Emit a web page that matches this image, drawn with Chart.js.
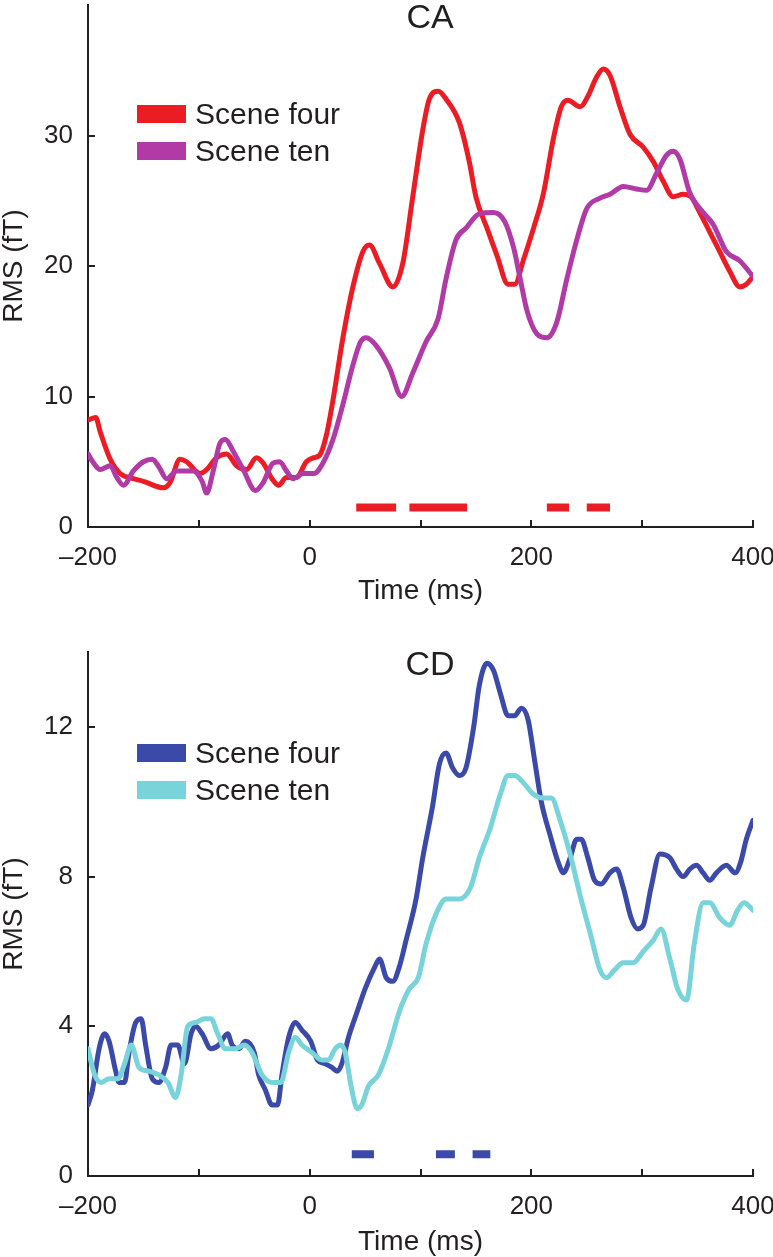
<!DOCTYPE html>
<html>
<head>
<meta charset="utf-8">
<script src="https://cdn.jsdelivr.net/npm/chart.js@4.4.0/dist/chart.umd.min.js"></script>
<style>
  html, body { margin: 0; padding: 0; background: #fff; }
  canvas { display: block; }
</style>
</head>
<body>
<canvas id="chartCA" width="773" height="606"></canvas>
<canvas id="chartCD" width="773" height="651"></canvas>
<script>
// ---- CA panel data ----
const caFourT = [-200,-193,-189,-180,-171,-159,-150,-132,-126,-117,-111,-99,-93,-84,-75,-66,-57,-48,-42,-34,-28,-21,-12,-3,3,9,15,21,30,39,48,54,63,75,84,93,102,108,116,123,135,144,150,160,169,179,185,193,202,211,220,227,233,244,251,259,265,271,280,289,301,310,319,328,337,344,352,361,370,379,388,394,400];
const caFourV = [8.2,8.4,7.3,5.2,4.1,3.7,3.5,3.0,3.4,5.2,5.0,4.1,4.4,5.3,5.6,4.7,4.4,5.3,4.9,3.7,3.2,3.8,3.8,5.0,5.3,5.5,7.0,9.7,14.5,18.4,21.1,21.6,20.2,18.4,20.2,25.3,30.4,32.8,33.4,32.8,31.0,28.0,25.3,22.9,20.8,18.6,18.6,20.5,22.9,25.6,29.8,32.2,32.7,32.2,33.0,34.5,35.1,34.6,32.2,30.1,29.1,28.0,26.5,25.3,25.5,25.3,24.1,22.6,21.1,19.6,18.4,18.6,19.2];
const caTenT = [-200,-195,-189,-180,-174,-168,-159,-150,-142,-136,-129,-120,-105,-97,-93,-87,-81,-76,-69,-60,-49,-42,-33,-27,-21,-15,-6,4,12,21,30,39,46,51,60,72,83,93,105,116,123,132,141,153,166,176,184,190,196,205,214,223,232,241,250,262,271,283,295,304,313,322,328,334,343,352,364,376,388,400];
const caTenV = [5.6,4.9,4.4,4.7,3.8,3.2,4.3,5.0,5.2,4.6,3.7,4.3,4.3,3.5,2.6,4.3,6.4,6.7,5.8,4.4,2.8,3.4,4.9,5.0,4.3,3.7,4.1,4.1,4.9,6.7,9.4,12.4,14.2,14.5,13.9,12.2,10.0,11.8,14.2,16.0,19.0,22.0,22.9,24.0,24.1,23.4,21.4,19.0,16.6,14.8,14.5,15.7,19.0,22.0,24.4,25.2,25.5,26.1,25.9,25.8,27.1,28.5,28.8,28.2,25.6,24.4,23.2,21.1,20.4,19.2];
const caSigStart = [42, 90, 214, 250];
const caSigEnd = [78, 142, 234, 271];
const caSigLevel = 1.5;
const caYTicks = [0, 10, 20, 30];

// ---- CD panel data ----
const cdFourT = [-200,-196,-190,-185,-181,-175,-172,-167,-163,-157,-152,-148,-142,-136,-130,-125,-119,-113,-107,-103,-97,-89,-82,-74,-70,-64,-58,-50,-46,-40,-34,-29,-25,-19,-13,-7,1,7,14,20,25,29,35,43,50,59,63,69,75,81,87,96,102,111,117,123,129,135,141,148,153,160,166,172,179,185,191,197,203,209,217,224,229,235,241,245,251,257,263,271,277,283,290,296,301,308,316,325,331,337,343,349,355,361,367,376,384,389,394,400];
const cdFourV = [1.9,2.3,3.4,3.8,3.6,2.8,2.5,2.5,3.3,4.1,4.2,3.5,2.6,2.5,2.9,3.5,3.5,3.0,3.8,4.0,3.8,3.4,3.5,3.8,3.5,3.4,3.6,3.3,2.7,2.3,1.9,1.9,2.7,3.7,4.1,3.9,3.6,3.1,3.0,2.9,2.8,3.0,3.7,4.4,5.0,5.6,5.8,5.3,5.2,5.6,6.3,7.4,8.5,9.9,11.0,11.3,10.9,10.7,10.9,12.0,13.1,13.7,13.5,12.9,12.3,12.3,12.5,12.2,11.1,10.0,9.1,8.4,8.1,8.5,9.0,9.0,8.5,7.9,7.8,8.1,8.2,7.7,6.9,6.6,6.7,7.7,8.6,8.5,8.2,8.0,8.2,8.3,8.1,7.9,8.1,8.3,8.1,8.4,9.0,9.5];
const cdTenT = [-200,-194,-188,-181,-173,-167,-161,-154,-145,-136,-128,-121,-116,-110,-103,-95,-89,-83,-76,-67,-59,-52,-43,-34,-26,-19,-13,-7,2,11,17,23,28,32,38,43,47,53,62,71,81,90,98,105,114,123,135,145,153,163,172,179,185,193,202,211,218,226,235,244,253,262,268,275,283,292,301,310,317,325,332,340,347,355,361,370,379,386,392,400];
const cdTenV = [3.4,2.7,2.5,2.6,2.6,3.0,3.5,2.9,2.8,2.7,2.5,2.1,2.7,4.0,4.1,4.2,4.2,3.8,3.4,3.4,3.5,3.3,2.7,2.5,2.5,3.3,3.7,3.5,3.3,3.1,3.1,3.4,3.5,3.3,2.3,1.8,1.9,2.4,2.7,3.4,4.4,5.0,5.3,6.2,7.0,7.4,7.4,7.7,8.5,9.3,10.2,10.7,10.7,10.5,10.2,10.1,10.1,9.5,8.6,7.5,6.5,5.5,5.3,5.5,5.7,5.7,6.0,6.3,6.6,5.8,5.0,4.7,6.2,7.3,7.3,6.9,6.7,7.1,7.3,7.1];
const cdSigStart = [38, 114, 147];
const cdSigEnd = [58, 131, 163];
const cdSigLevel = 0.58;
const cdYTicks = [0, 4, 8, 12];

const xTickMarks = [-200, -100, 0, 100, 200, 300, 400];
const seriesLabels = ['Scene four', 'Scene ten'];

const ink = '#231f20';
const fontFamily = "'Liberation Sans', Arial, Helvetica, sans-serif";
Chart.defaults.font.family = fontFamily;
Chart.defaults.color = ink;

function series(times, values) {
    return times.map((t, i) => ({ x: t, y: values[i] }));
}

// significance bars: one dataset, gaps between segments
function sigSeries(starts, ends, level) {
    const pts = [];
    starts.forEach((s, i) => {
        if (i > 0) pts.push({ x: (ends[i - 1] + s) / 2, y: null });
        pts.push({ x: s, y: level }, { x: ends[i], y: level });
    });
    return pts;
}

// keep the plot box where we put it (labels may overhang)
function noOverhang(s) {
    s.paddingTop = 0;
    s.paddingBottom = 0;
    s.paddingLeft = 0;
    s.paddingRight = 0;
}

const innerTicks = {
    id: 'innerTicks',
    beforeDatasetsDraw(chart, args, opts) {
        const { ctx, chartArea, scales: { x, y } } = chart;
        ctx.save();
        ctx.strokeStyle = ink;
        ctx.lineWidth = 2;
        ctx.beginPath();
        opts.xTicks.forEach(v => {
            const px = Math.round(x.getPixelForValue(v));
            ctx.moveTo(px, chartArea.bottom);
            ctx.lineTo(px, chartArea.bottom - 7);
        });
        opts.yTicks.forEach(v => {
            const py = Math.round(y.getPixelForValue(v));
            ctx.moveTo(chartArea.left, py);
            ctx.lineTo(chartArea.left + 7, py);
        });
        ctx.stroke();
        ctx.restore();
    }
};

const panelLegend = {
    id: 'panelLegend',
    afterDatasetsDraw(chart, args, opts) {
        const { ctx, chartArea } = chart;
        const items = chart.data.datasets.filter(d => d.label);
        ctx.save();
        ctx.font = '30px ' + fontFamily;
        ctx.textBaseline = 'alphabetic';
        ctx.textAlign = 'left';
        items.forEach((d, i) => {
            const top = chartArea.top + opts.top + i * 37;
            const left = chartArea.left + 49;
            ctx.fillStyle = d.borderColor;
            ctx.fillRect(left, top, 49, 18);
            ctx.fillStyle = ink;
            ctx.fillText(d.label, left + 58, top + 19);
        });
        ctx.restore();
    }
};

const panelTitle = {
    id: 'panelTitle',
    afterDatasetsDraw(chart, args, opts) {
        const { ctx, chartArea } = chart;
        ctx.save();
        ctx.font = '34px ' + fontFamily;
        ctx.fillStyle = ink;
        ctx.textAlign = 'center';
        ctx.textBaseline = 'middle';
        ctx.fillText(opts.text, chartArea.left + 342, chartArea.top + 14);
        ctx.restore();
    }
};

function crearPanel(canvas, cfg) {
    const ctx = document.getElementById(canvas).getContext('2d');
    return new Chart(ctx, {
        type: 'line',
        data: {
            datasets: [
                {
                    label: seriesLabels[0],
                    data: series(cfg.fourT, cfg.fourV),
                    borderColor: cfg.colors[0],
                    order: 2
                },
                {
                    label: seriesLabels[1],
                    data: series(cfg.tenT, cfg.tenV),
                    borderColor: cfg.colors[1],
                    order: 1
                },
                {
                    label: '',
                    data: sigSeries(cfg.sigStart, cfg.sigEnd, cfg.sigLevel),
                    borderColor: cfg.colors[0],
                    borderWidth: 8,
                    borderCapStyle: 'butt',
                    cubicInterpolationMode: 'default',
                    tension: 0,
                    spanGaps: false,
                    order: 3
                }
            ]
        },
        options: {
            responsive: false,
            animation: false,
            layout: { padding: { top: cfg.padTop, right: 20, left: 0, bottom: 0 } },
            elements: {
                point: { radius: 0 },
                line: { borderWidth: 5, cubicInterpolationMode: 'monotone', borderJoinStyle: 'round', borderCapStyle: 'round', fill: false }
            },
            plugins: {
                legend: { display: false },
                tooltip: { enabled: false },
                innerTicks: { xTicks: xTickMarks, yTicks: cfg.yTicks },
                panelLegend: { top: cfg.legendTop },
                panelTitle: { text: cfg.title }
            },
            scales: {
                x: {
                    type: 'linear',
                    min: -200,
                    max: 400,
                    grid: { display: false, drawTicks: false },
                    border: { display: true, color: ink, width: 2 },
                    ticks: {
                        stepSize: 100,
                        autoSkip: false,
                        maxRotation: 0,
                        padding: 15,
                        font: { size: 26 },
                        callback: v => (v % 200 === 0 ? (v < 0 ? '\u2013' + Math.abs(v) : String(v)) : '')
                    },
                    title: {
                        display: true,
                        text: 'Time (ms)',
                        font: { size: 28, lineHeight: 1 },
                        padding: { top: 0, bottom: 1 }
                    },
                    afterFit: s => { s.height = cfg.xHeight; noOverhang(s); }
                },
                y: {
                    min: 0,
                    max: cfg.yMax,
                    grid: { display: false, drawTicks: false },
                    border: { display: true, color: ink, width: 2 },
                    ticks: {
                        stepSize: cfg.yStep,
                        padding: 15,
                        font: { size: 26 },
                        callback: v => (cfg.yTicks.includes(v) ? String(v) : '')
                    },
                    title: {
                        display: true,
                        text: 'RMS (fT)',
                        font: { size: 28, lineHeight: 1 },
                        padding: { top: 0, bottom: 0 }
                    },
                    afterFit: s => { s.width = 88; noOverhang(s); }
                }
            }
        },
        plugins: [innerTicks, panelLegend, panelTitle]
    });
}

crearPanel('chartCA', {
    title: 'CA',
    fourT: caFourT, fourV: caFourV, tenT: caTenT, tenV: caTenV,
    sigStart: caSigStart, sigEnd: caSigEnd, sigLevel: caSigLevel,
    colors: ['#ec1c24', '#b23aa6'],
    yMax: 40, yStep: 10, yTicks: caYTicks,
    padTop: 5, xHeight: 79, legendTop: 100
});

crearPanel('chartCD', {
    title: 'CD',
    fourT: cdFourT, fourV: cdFourV, tenT: cdTenT, tenV: cdTenV,
    sigStart: cdSigStart, sigEnd: cdSigEnd, sigLevel: cdSigLevel,
    colors: ['#3b4aa8', '#79d3da'],
    yMax: 14, yStep: 4, yTicks: cdYTicks,
    padTop: 46, xHeight: 81, legendTop: 92
});
</script>
</body>
</html>
